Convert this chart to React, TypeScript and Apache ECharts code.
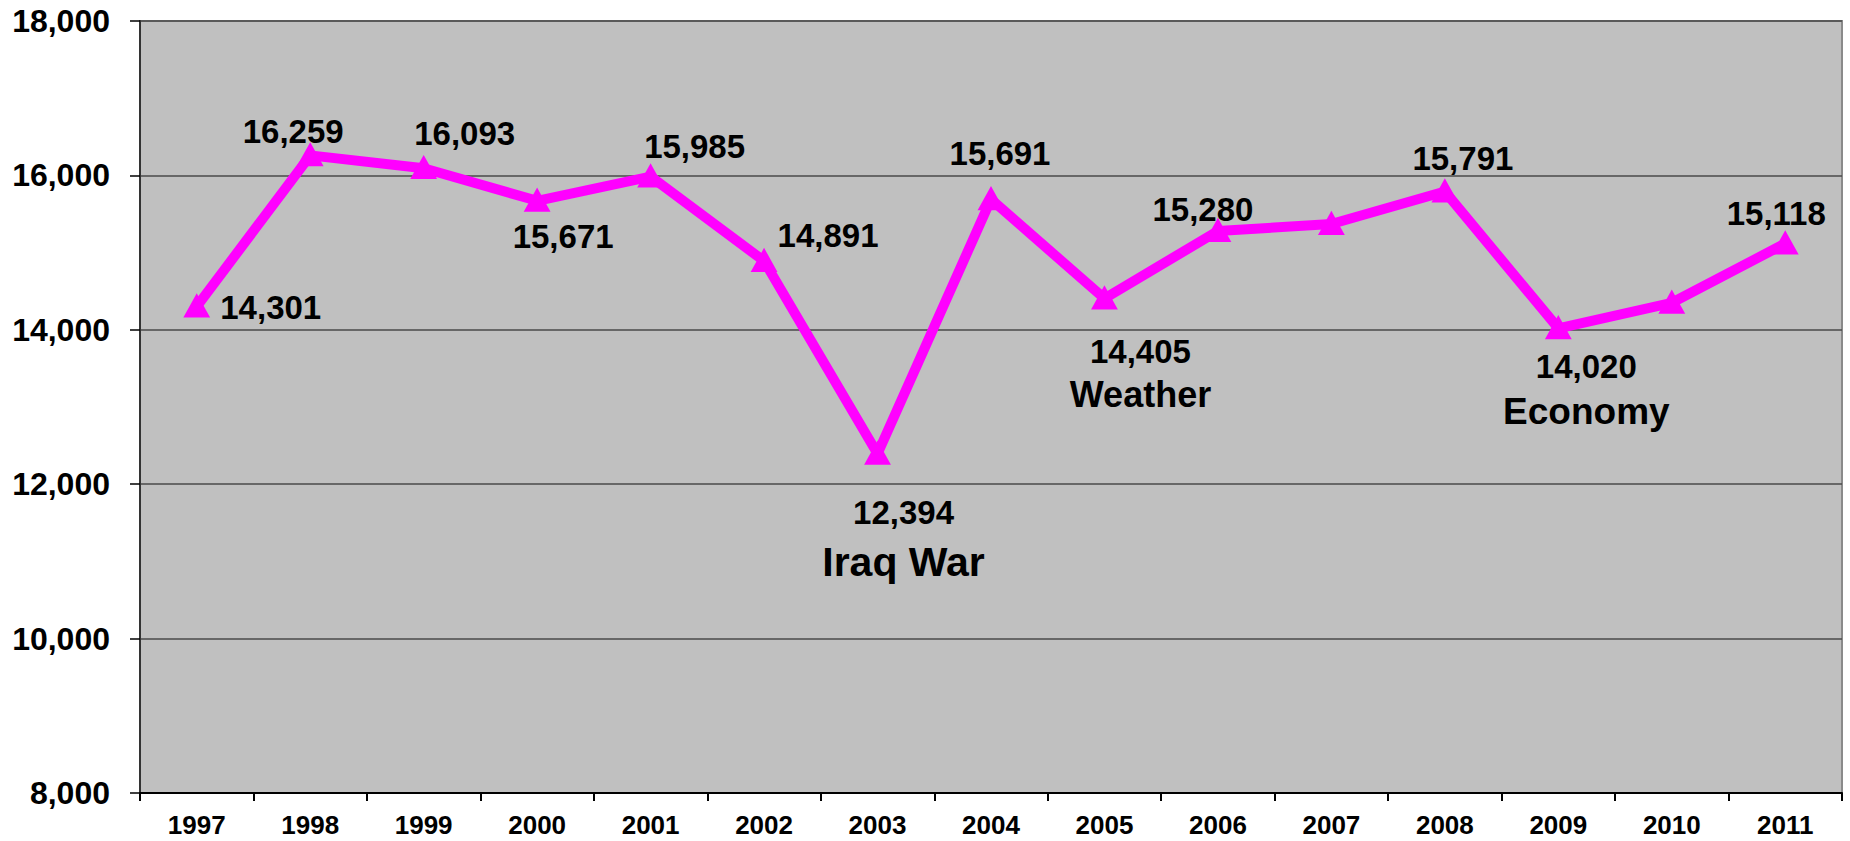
import React, { useEffect, useRef } from 'react';
import * as echarts from 'echarts';

// Yearly volume, 1997–2011
const years = ['1997', '1998', '1999', '2000', '2001', '2002', '2003', '2004', '2005', '2006', '2007', '2008', '2009', '2010', '2011'];
const volumes = [14301, 16259, 16093, 15671, 15985, 14891, 12394, 15691, 14405, 15280, 15370, 15791, 14020, 14350, 15118];

// Years whose value is printed next to the marker
const labeledYears = ['1997', '1998', '1999', '2000', '2001', '2002', '2003', '2004', '2005', '2006', '2008', '2009', '2011'];

// Short explanations printed under some of the dips
const notes: Record<string, string> = { '2003': 'Iraq War', '2005': 'Weather', '2009': 'Economy' };

// Value axis ticks
const yMin = 8000;
const yMax = 18000;
const yStep = 2000;

// Label placement relative to each marker (pixels)
const labelOffset: Record<string, [number, number]> = {
  '1997': [74, 1],
  '1998': [-17, -24],
  '1999': [41, -35],
  '2000': [26, 36],
  '2001': [44, -30],
  '2002': [64, -26],
  '2003': [26, 88],
  '2004': [9, -46],
  '2005': [36, 76],
  '2006': [-15, -21],
  '2008': [18, -33],
  '2009': [28, 63],
  '2011': [-9, -30],
};

const noteLineHeight: Record<string, number> = { '2003': 58, '2005': 46, '2009': 50 };
const noteFontSize: Record<string, number> = { '2003': 41, '2005': 36, '2009': 37 };

const FONT = "'Liberation Sans', Arial, sans-serif";
const fmt = (v: number) => v.toLocaleString('en-US');

export default function App() {
  const ref = useRef<HTMLDivElement>(null);

  useEffect(() => {
    if (!ref.current) return;
    const chart = echarts.init(ref.current, undefined, { renderer: 'svg' });

    const data = years.map((year, i) => {
      const value = volumes[i];
      if (!labeledYears.includes(year)) {
        return { value, label: { show: false } };
      }
      const note = notes[year];
      return {
        value,
        label: {
          show: true,
          position: 'inside',
          offset: labelOffset[year] || [0, -30],
          align: 'center',
          verticalAlign: 'middle',
          formatter: note ? `{v|${fmt(value)}}\n{n|${note}}` : `{v|${fmt(value)}}`,
          rich: {
            v: {
              fontFamily: FONT,
              fontWeight: 'bold',
              fontSize: 33,
              color: '#000',
              lineHeight: 40,
              align: 'center',
            },
            n: {
              fontFamily: FONT,
              fontWeight: 'bold',
              fontSize: note ? noteFontSize[year] : 36,
              color: '#000',
              lineHeight: note ? noteLineHeight[year] : 46,
              align: 'center',
            },
          },
        },
      };
    });

    chart.setOption({
      animation: false,
      backgroundColor: '#ffffff',
      grid: {
        left: 140,
        right: 8,
        top: 21,
        bottom: 48,
        show: true,
        backgroundColor: '#C0C0C0',
        borderColor: '#8a8a8a',
        borderWidth: 2,
      },
      xAxis: {
        type: 'category',
        data: years,
        boundaryGap: true,
        axisLine: { show: true, lineStyle: { color: '#000', width: 2 } },
        axisTick: { show: true, length: 8, lineStyle: { color: '#000', width: 2 } },
        axisLabel: {
          interval: 0,
          margin: 19,
          color: '#000',
          fontFamily: FONT,
          fontWeight: 'bold',
          fontSize: 26,
        },
        splitLine: { show: false },
      },
      yAxis: {
        type: 'value',
        min: yMin,
        max: yMax,
        interval: yStep,
        axisLine: { show: true, lineStyle: { color: '#333', width: 2 } },
        axisTick: { show: true, length: 10, lineStyle: { color: '#000', width: 1.5 } },
        axisLabel: {
          margin: 30,
          color: '#000',
          fontFamily: FONT,
          fontWeight: 'bold',
          fontSize: 32,
          formatter: (v: number) => fmt(v),
        },
        splitLine: { show: true, lineStyle: { color: '#4a4a4a', width: 1.5 } },
      },
      series: [
        {
          type: 'line',
          data,
          color: '#FF00FF',
          lineStyle: { color: '#FF00FF', width: 10 },
          symbol: 'triangle',
          symbolSize: [20, 18],
          showAllSymbol: true,
          itemStyle: { color: '#FF00FF', borderColor: '#FF00FF', borderWidth: 4 },
          z: 3,
        },
      ],
    });

    return () => chart.dispose();
  }, []);

  return (
    <div
      ref={ref}
      style={{ position: 'fixed', left: 0, top: 0, width: 1850, height: 841 }}
    />
  );
}
